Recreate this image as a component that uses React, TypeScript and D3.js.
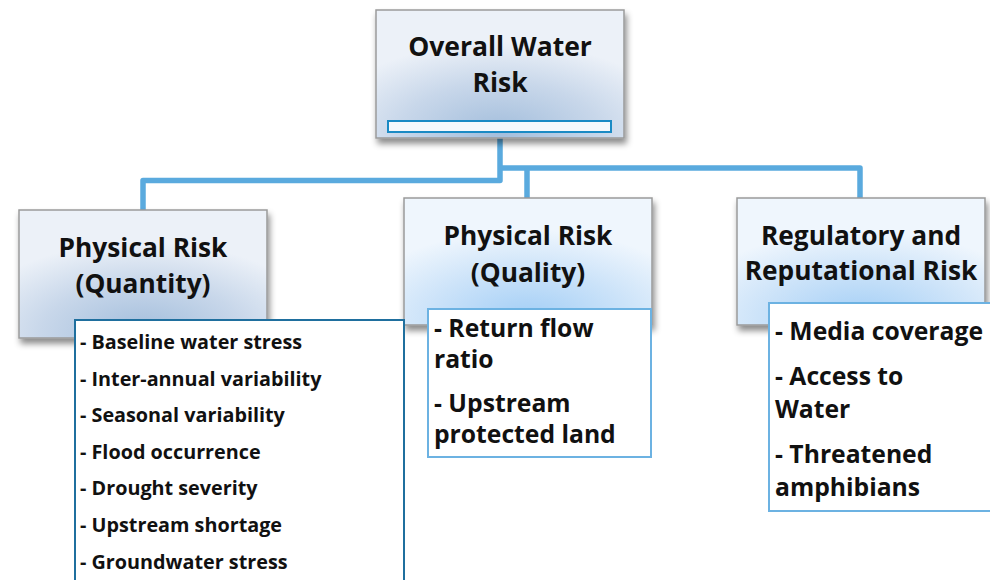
import React from "react";
import * as d3 from "d3";

const rootTitle = ["Overall Water", "Risk"];
const categoryTitles = [
  ["Physical Risk", "(Quantity)"],
  ["Physical Risk", "(Quality)"],
  ["Regulatory and", "Reputational Risk"],
];
const quantityItems = [
  ["- Baseline water stress"],
  ["- Inter-annual variability"],
  ["- Seasonal variability"],
  ["- Flood occurrence"],
  ["- Drought severity"],
  ["- Upstream shortage"],
  ["- Groundwater stress"],
];
const qualityItems = [["- Return flow", "ratio"], ["- Upstream", "protected land"]];
const regulatoryItems = [["- Media coverage"], ["- Access to", "Water"], ["- Threatened", "amphibians"]];

const W = 990;
const H = 580;
const FONT = "'Open Sans', 'Noto Sans', sans-serif";

const rootBox = { x: 376, y: 10, w: 248, h: 128 };
const catBoxes = [
  { x: 19, y: 210, w: 248, h: 128, grad: "gGray", textY: [257, 293] },
  { x: 404, y: 198, w: 248, h: 127, grad: "gBlue", textY: [245, 282] },
  { x: 737, y: 198, w: 248, h: 127, grad: "gBlue", textY: [245, 280] },
];
const listBoxes = [
  { x: 75, y: 320, w: 329, h: 280, stroke: "#1f6f9e", items: quantityItems, fs: 19.8, tx: 80, y0: 349, itemGap: 36.6, lineGap: 0 },
  { x: 428, y: 309, w: 223, h: 148, stroke: "#6cb2e2", items: qualityItems, fs: 24.7, tx: 434, y0: 337, itemGap: 44, lineGap: 31 },
  { x: 769, y: 303, w: 240, h: 208, stroke: "#6cb2e2", items: regulatoryItems, fs: 24.7, tx: 775, y0: 340, itemGap: 45, lineGap: 33 },
];

export default function App() {
  const line = d3.line<[number, number]>().curve(d3.curveLinear);
  const cx = [143, 527, 860];
  const trunkX = 500;
  const leftY = 180.5;
  const rightY = 168;
  const stem = line([
    [trunkX, rootBox.y + rootBox.h],
    [trunkX, leftY],
    [cx[0], leftY],
    [cx[0], catBoxes[0].y],
  ]);
  const right = line([
    [trunkX, rightY],
    [cx[2], rightY],
    [cx[2], catBoxes[2].y],
  ]);
  const mid = line([
    [cx[1], rightY],
    [cx[1], catBoxes[1].y],
  ]);

  const renderList = (lb: typeof listBoxes[number], i: number) => {
    let y = lb.y0;
    const texts: React.ReactNode[] = [];
    lb.items.forEach((item, j) => {
      item.forEach((ln, k) => {
        texts.push(
          <text key={`${j}-${k}`} x={lb.tx} y={y} fontSize={lb.fs} fontWeight={700} fill="#111" fontFamily={FONT}>
            {ln}
          </text>
        );
        if (k < item.length - 1) y += lb.lineGap;
      });
      y += lb.itemGap;
    });
    return (
      <g key={`lb${i}`}>
        <rect x={lb.x} y={lb.y} width={lb.w} height={lb.h} fill="#fff" stroke={lb.stroke} strokeWidth={2} />
        {texts}
      </g>
    );
  };

  return (
    <svg width={W} height={H} style={{ position: "absolute", left: 0, top: 0, display: "block" }}>
      <defs>
        <radialGradient id="gGray" cx="50%" cy="100%" r="75%" fx="50%" fy="95%">
          <stop offset="0%" stopColor="#a3bedc" />
          <stop offset="55%" stopColor="#c8d7ea" />
          <stop offset="100%" stopColor="#ecf1f8" />
        </radialGradient>
        <radialGradient id="gBlue" cx="50%" cy="100%" r="75%" fx="50%" fy="95%">
          <stop offset="0%" stopColor="#a2cef6" />
          <stop offset="55%" stopColor="#cce3f9" />
          <stop offset="100%" stopColor="#eff6fd" />
        </radialGradient>
        <filter id="shadow" x="-10%" y="-10%" width="125%" height="130%">
          <feDropShadow dx="2" dy="5" stdDeviation="3" floodColor="#000" floodOpacity="0.45" />
        </filter>
      </defs>
      <rect x={0} y={0} width={W} height={H} fill="#fff" />
      <g fill="none" stroke="#5aaade" strokeWidth={5.5} strokeLinejoin="round">
        <path d={stem || ""} />
        <path d={right || ""} />
        <path d={mid || ""} />
      </g>
      <g filter="url(#shadow)">
        <rect x={rootBox.x} y={rootBox.y} width={rootBox.w} height={rootBox.h} fill="url(#gGray)" stroke="#9a9a9a" strokeWidth={1.5} />
      </g>
      <rect x={388} y={121} width={223} height={11} fill="#f5f9fc" stroke="#1a8ac4" strokeWidth={2} />
      {rootTitle.map((t, i) => (
        <text key={t} x={rootBox.x + rootBox.w / 2} y={56 + i * 36} textAnchor="middle" fontSize={26.5} fontWeight={700} fill="#111" fontFamily={FONT}>
          {t}
        </text>
      ))}
      {catBoxes.map((b, i) => (
        <g key={`cb${i}`}>
          <g filter="url(#shadow)">
            <rect x={b.x} y={b.y} width={b.w} height={b.h} fill={`url(#${b.grad})`} stroke="#9a9a9a" strokeWidth={1.5} />
          </g>
          {categoryTitles[i].map((t, k) => (
            <text key={k} x={b.x + b.w / 2} y={b.textY[k]} textAnchor="middle" fontSize={26.3} fontWeight={700} fill="#111" fontFamily={FONT}>
              {t}
            </text>
          ))}
        </g>
      ))}
      {listBoxes.map(renderList)}
    </svg>
  );
}
